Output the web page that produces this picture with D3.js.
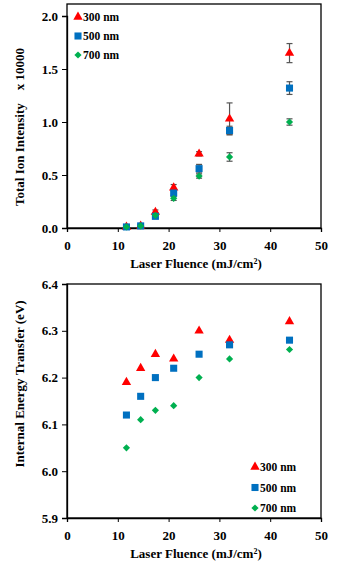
<!DOCTYPE html>
<html>
<head>
<meta charset="utf-8">
<script src="https://cdn.jsdelivr.net/npm/d3@7"></script>
<style>
  body { margin: 0; background: #fff; }
  svg { display: block; }
  text { font-family: "Liberation Serif", "Times New Roman", serif; font-weight: bold; fill: #000; }
</style>
</head>
<body>
<svg width="337" height="564"></svg>
<script>
// fluence values (mJ/cm2), shared by both panels
var fluence = [11.7, 14.5, 17.4, 21.0, 26.0, 32.0, 43.8];
var wavelengths = ["300 nm", "500 nm", "700 nm"];

// top panel: total ion intensity (x 10000)
var ion300 = [0.01, 0.02, 0.15, 0.38, 0.70, 1.03, 1.65];
var ion500 = [0.01, 0.02, 0.11, 0.33, 0.56, 0.92, 1.32];
var ion700 = [0.01, 0.02, 0.12, 0.28, 0.49, 0.67, 1.00];
var err300 = [0.01, 0.01, 0.02, 0.03, 0.02, 0.15, 0.09];
var err500 = [0.01, 0.01, 0.02, 0.03, 0.04, 0.04, 0.06];
var err700 = [0.01, 0.01, 0.02, 0.02, 0.02, 0.04, 0.03];

// bottom panel: internal energy transfer (eV)
var iet300 = [6.19, 6.22, 6.25, 6.24, 6.30, 6.28, 6.32];
var iet500 = [6.12, 6.16, 6.20, 6.22, 6.25, 6.27, 6.28];
var iet700 = [6.05, 6.11, 6.13, 6.14, 6.20, 6.24, 6.26];

var xTicks = [0, 10, 20, 30, 40, 50];
var ionTicks = [0, 0.5, 1.0, 1.5, 2.0];
var ietTicks = [5.9, 6.0, 6.1, 6.2, 6.3, 6.4];

var colors = ["#ff0000", "#0070c0", "#00b050"];
var shapes = [d3.symbolTriangle, d3.symbolSquare, d3.symbolSquare];
var sizes = [38, 50, 26];
var rotations = [0, 0, 45];

var svg = d3.select("svg");
var left = 67, right = 321;

var x = d3.scaleLinear().domain([0, 50]).range([left, right]);

function marker(k) {
    return d3.symbol().type(shapes[k]).size(sizes[k])();
}

function panel(cfg) {
    var y = d3.scaleLinear().domain(cfg.domain).range([cfg.bottom, cfg.top]);
    var g = svg.append("g");

    // frame
    g.append("rect")
        .attr("x", left).attr("y", cfg.frameTop)
        .attr("width", right - left).attr("height", cfg.bottom - cfg.frameTop)
        .attr("fill", "none").attr("stroke", "#000").attr("stroke-width", 1.3);

    var yAxis = d3.axisLeft(y).tickValues(cfg.ticks).tickSize(5).tickPadding(4)
        .tickFormat(d3.format(".1f"));
    var ya = g.append("g").attr("transform", "translate(" + left + ",0)").call(yAxis);

    var xAxis = d3.axisBottom(x).tickValues(xTicks).tickSize(4).tickPadding(9)
        .tickFormat(d3.format("d"));
    var xa = g.append("g").attr("transform", "translate(0," + cfg.bottom + ")").call(xAxis);

    [ya, xa].forEach(function (a) {
        a.select(".domain").attr("stroke", "#000").attr("stroke-width", 1.3);
        a.selectAll(".tick line").attr("stroke", "#000").attr("stroke-width", 1);
        a.selectAll(".tick text").attr("font-size", 13).attr("font-family", "Liberation Serif")
            .attr("font-weight", "bold").attr("fill", "#000");
    });

    // axis titles
    var xt = g.append("text")
        .attr("x", (left + right) / 2 + 2).attr("y", cfg.bottom + 40)
        .attr("text-anchor", "middle").attr("font-size", 13)
        .text("Laser Fluence (mJ/cm");
    xt.append("tspan").attr("baseline-shift", "super").attr("font-size", 8).text("2");
    xt.append("tspan").text(")");

    g.append("text")
        .attr("transform", "translate(24," + cfg.titleY + ") rotate(-90)")
        .attr("text-anchor", "middle").attr("font-size", 13)
        .attr("xml:space", "preserve")
        .text(cfg.title);

    // error bars
    if (cfg.errors) {
        cfg.series.forEach(function (s, k) {
            var rows = fluence.map(function (f, i) { return { f: f, v: s[i], e: cfg.errors[k][i] }; });
            var eb = g.append("g").attr("stroke", "#555").attr("stroke-width", 1.2);
            eb.selectAll("line.v").data(rows).enter().append("line")
                .attr("x1", d => x(d.f)).attr("x2", d => x(d.f))
                .attr("y1", d => y(d.v - d.e)).attr("y2", d => y(d.v + d.e));
            eb.selectAll("line.t").data(rows).enter().append("line")
                .attr("x1", d => x(d.f) - 3).attr("x2", d => x(d.f) + 3)
                .attr("y1", d => y(d.v + d.e)).attr("y2", d => y(d.v + d.e));
            eb.selectAll("line.b").data(rows).enter().append("line")
                .attr("x1", d => x(d.f) - 3).attr("x2", d => x(d.f) + 3)
                .attr("y1", d => y(d.v - d.e)).attr("y2", d => y(d.v - d.e));
        });
    }

    // markers
    cfg.series.forEach(function (s, k) {
        g.selectAll(null).data(s).enter().append("path")
            .attr("d", marker(k))
            .attr("transform", (d, i) => "translate(" + x(fluence[i]) + "," + y(d) + ") rotate(" + rotations[k] + ")")
            .attr("fill", colors[k]);
    });

    // legend
    wavelengths.forEach(function (w, k) {
        var ly = cfg.legendY + k * cfg.legendStep;
        g.append("path")
            .attr("d", marker(k))
            .attr("transform", "translate(" + cfg.legendX + "," + ly + ") rotate(" + rotations[k] + ")")
            .attr("fill", colors[k]);
        g.append("text")
            .attr("x", cfg.legendX + 5).attr("y", ly + 4)
            .attr("font-size", 11.5).text(w);
    });
}

panel({
    domain: [0, 2.0], top: 16, bottom: 228, frameTop: 4, ticks: ionTicks,
    series: [ion300, ion500, ion700], errors: [err300, err500, err700],
    title: "Total Ion Intensity    x 10000", titleY: 127,
    legendX: 78, legendY: 17, legendStep: 19
});

panel({
    domain: [5.9, 6.4], top: 284, bottom: 518, frameTop: 284, ticks: ietTicks,
    series: [iet300, iet500, iet700], errors: null,
    title: "Internal Energy Transfer (eV)", titleY: 384,
    legendX: 255, legendY: 467, legendStep: 20.5
});
</script>
</body>
</html>
